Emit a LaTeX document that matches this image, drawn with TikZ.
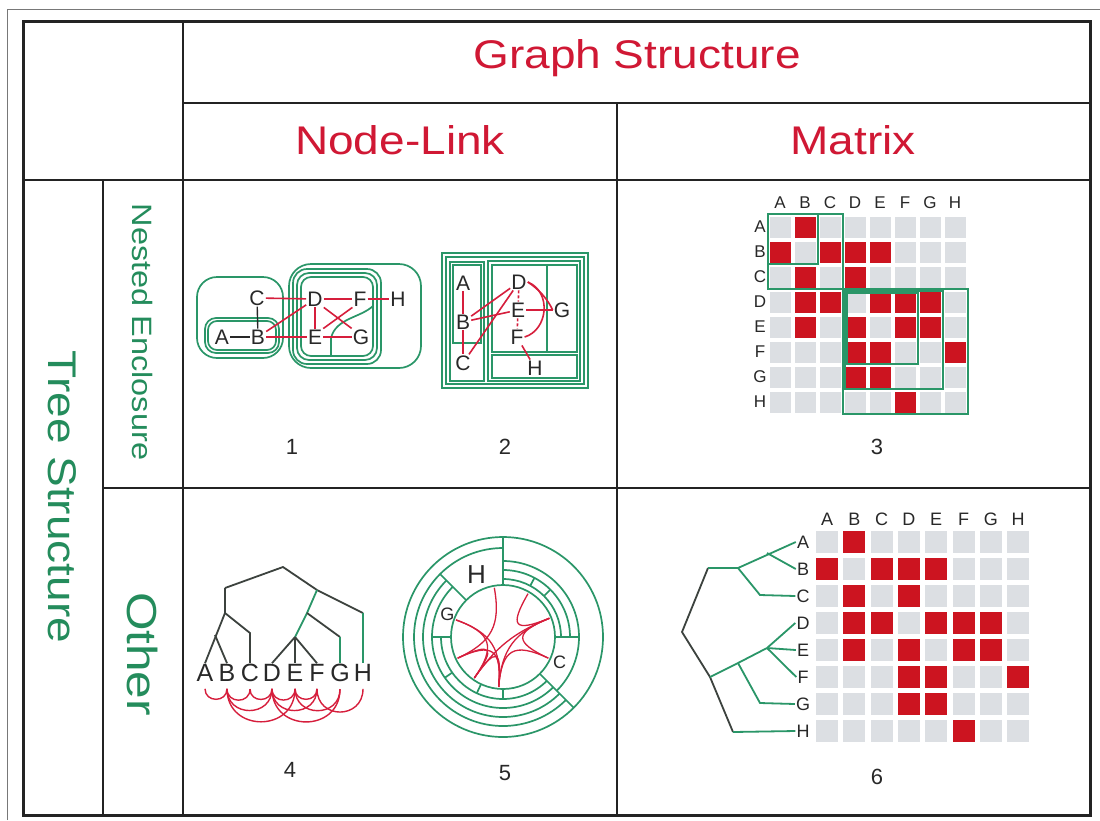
\documentclass[tikz,border=0pt]{standalone}
\usepackage{fontspec}
\setmainfont{Liberation Sans}
\usepackage{graphicx}
\definecolor{hred}{RGB}{208,24,52}
\definecolor{tgreen}{RGB}{36,140,92}
\definecolor{lgreen}{RGB}{42,150,104}
\definecolor{ered}{RGB}{214,30,60}
\definecolor{cellred}{RGB}{204,20,32}
\definecolor{cellgray}{RGB}{220,223,227}
\definecolor{framec}{RGB}{35,35,35}
\definecolor{txt}{RGB}{40,40,40}
\definecolor{tdark}{RGB}{60,66,62}
\definecolor{thinc}{RGB}{120,120,120}
\tikzset{
  hdr/.style={text=hred, inner sep=0pt, font=\fontsize{40}{40}\selectfont},
  rowlab/.style={text=tgreen, inner sep=0pt, rotate=-90},
  num/.style={text=txt, inner sep=0pt, font=\fontsize{22}{22}\selectfont},
  gl/.style={text=txt, inner sep=1pt, font=\fontsize{21}{21}\selectfont},
  mlab/.style={text=txt, inner sep=0pt, font=\fontsize{17}{17}\selectfont},
  blab/.style={text=txt, inner sep=1pt, font=\fontsize{25}{25}\selectfont},
  encl/.style={draw=lgreen, line width=1.7pt},
  redge/.style={draw=ered, line width=1.6pt},
  dedge/.style={draw=txt, line width=1.4pt},
  gridl/.style={draw=framec, line width=1.3pt},
  tline/.style={draw=tdark, line width=1.8pt},
  tgline/.style={draw=lgreen, line width=1.8pt},
}
\begin{document}
\begin{tikzpicture}[x=1pt,y=-1pt]
\useasboundingbox (0,0) rectangle (1100,820);
\fill[white] (0,0) rectangle (1100,820);
% ---------- table frame ----------
\draw[thinc, line width=0.8pt] (7,820) -- (7,9) -- (1100,9);
\draw[framec, line width=3pt] (23,21) rectangle (1090,815);
\draw[gridl] (183,21) -- (183,815);
\draw[gridl] (183,103) -- (1090,103);
\draw[framec, line width=2pt] (23,180) -- (1090,180);
\draw[gridl] (617,103) -- (617,815);
\draw[gridl] (103,180) -- (103,815);
\draw[gridl] (103,488) -- (1090,488);
% ---------- headers ----------
\node[hdr] (hGraph) at (637,58) {\scalebox{1.15}[1]{Graph Structure}};
\node[hdr] (hNL) at (400,140) {\scalebox{1.15}[1]{Node-Link}};
\node[hdr] (hMat) at (853,140) {\scalebox{1.15}[1]{Matrix}};
\node[rowlab, font=\fontsize{40}{40}\selectfont] (hTree) at (62,497) {\scalebox{1.15}[1]{Tree Structure}};
\node[rowlab, font=\fontsize{28}{28}\selectfont] (hNest) at (143,332) {\scalebox{1.16}[1]{Nested Enclosure}};
\node[rowlab, font=\fontsize{42}{42}\selectfont] (hOther) at (143,654) {\scalebox{1.18}[1]{Other}};
% ---------- panel 1 ----------
\draw[encl, rounded corners=20] (197,277) rectangle (283,358);
\draw[encl, rounded corners=11] (205,318) rectangle (279,353);
\draw[encl, rounded corners=9] (208,321) rectangle (276,350);
\draw[encl, rounded corners=22] (289,264) rectangle (421,368);
\draw[encl, rounded corners=14] (293,269) rectangle (381,364);
\draw[encl, rounded corners=12] (297,273) rectangle (377,360);
\draw[encl, rounded corners=10] (301,277) rectangle (373,356);
\draw[encl] (373,306) .. controls (360,318) and (336,318) .. (331,338) -- (331,356);
\node[gl] (aC) at (257,298) {C};
\node[gl] (aA) at (222,337) {A};
\node[gl] (aB) at (258,337) {B};
\node[gl] (aD) at (315,299) {D};
\node[gl] (aE) at (315,337) {E};
\node[gl] (aF) at (360,299) {F};
\node[gl] (aG) at (361,337) {G};
\node[gl] (aH) at (398,299) {H};
\draw[dedge] (aA) -- (aB);
\draw[dedge] (aC) -- (aB);
\draw[redge] (aC) -- (aD);
\draw[redge] (aB) -- (aD);
\draw[redge] (aB) -- (aE);
\draw[redge] (aD) -- (aE);
\draw[redge] (aD.east) -- (aF.west);
\draw[redge] (aE.east) -- (aG.west);
\draw[redge] (aD.south east) -- (aG.north west);
\draw[redge] (aF.south west) -- (aE.north east);
\draw[redge] (aF) -- (aH);
% ---------- panel 2 ----------
\draw[encl] (442,253) rectangle (588,388);
\draw[encl] (446,257) rectangle (584,384);
\draw[encl] (450,262) rectangle (484,381);
\draw[encl] (453,265) rectangle (481,343);
\draw[encl] (488,261) rectangle (580,381);
\draw[encl] (492,265) rectangle (547,352);
\draw[encl] (547,265) rectangle (577,352);
\draw[encl] (492,355) rectangle (577,378);
\node[gl] (bA) at (463,283) {A};
\node[gl] (bB) at (463,322) {B};
\node[gl] (bC) at (463,363) {C};
\node[gl] (bD) at (519,282) {D};
\node[gl] (bE) at (518,310) {E};
\node[gl] (bF) at (517,337) {F};
\node[gl] (bG) at (562,310) {G};
\node[gl] (bH) at (535,368) {H};
\draw[redge] (bA) -- (bB);
\draw[redge] (bB) -- (bC);
\draw[redge] (bB) -- (bD);
\draw[redge] (bC) -- (bD);
\draw[redge] (bB) -- (bE);
\draw[redge, dash pattern=on 3pt off 2pt] (bD) -- (bE);
\draw[redge, dash pattern=on 3pt off 2pt] (bE) -- (bF);
\draw[redge] (bE) -- (bG);
\draw[redge] (bD.east) .. controls (540,290) and (548,300) .. (bG.west);
\draw[redge] (bD.east) .. controls (552,292) and (548,330) .. (bF.east);
\draw[redge] (bF) -- (bH);
% ---------- panel 3 (matrix) ----------
\foreach \i in {0,...,7} \foreach \j in {0,...,7}
  \fill[cellgray] ({769.5+25*\i},{216.5+25*\j}) rectangle +(21,21);
\foreach \r/\c in {0/1, 1/0,1/2,1/3,1/4, 2/1,2/3, 3/1,3/2,3/4,3/5,3/6, 4/1,4/3,4/5,4/6, 5/3,5/4,5/7, 6/3,6/4, 7/5}
  \fill[cellred] ({769.5+25*\c},{216.5+25*\r}) rectangle +(21,21);
\foreach \l [count=\k from 0] in {A,B,C,D,E,F,G,H} {
  \node[mlab] (mc\l) at ({780+25*\k},203) {\l};
  \node[mlab] (mr\l) at (760,{227+25*\k}) {\l};
}
\draw[encl] (768,214) rectangle (843,289);
\draw[encl] (768,214) rectangle (818,264);
\draw[encl] (843,289) rectangle (968,414);
\draw[encl] (845,291) rectangle (943,389);
\draw[encl] (847,293) rectangle (918,364);
% ---------- panel 4 (tree + arcs) ----------
\node[blab] (dA) at (205,673) {A};
\node[blab] (dB) at (227,673) {B};
\node[blab] (dC) at (250,673) {C};
\node[blab] (dD) at (272,673) {D};
\node[blab] (dE) at (295,673) {E};
\node[blab] (dF) at (317,673) {F};
\node[blab] (dG) at (340,673) {G};
\node[blab] (dH) at (363,673) {H};
\coordinate (tRoot) at (283,567);
\coordinate (tL) at (225,588);
\coordinate (tR) at (317,590);
\coordinate (tLv) at (225,613);
\coordinate (tAB) at (215,635);
\coordinate (tCn) at (250,633);
\coordinate (tHn) at (363,613);
\coordinate (tDEFG) at (307,613);
\coordinate (tDEF) at (295,637);
\coordinate (tGn) at (340,637);
\draw[tline] (tL) -- (tRoot) -- (tR);
\draw[tline] (tL) -- (tLv) -- (dA.north);
\draw[tline] (tAB) -- (dB.north);
\draw[tline] (tLv) -- (tCn) -- (dC.north);
\draw[tline] (tR) -- (tHn);
\draw[tgline] (tHn) -- (dH.north);
\draw[tgline] (tR) -- (tDEFG) -- (tDEF);
\draw[tline] (tDEF) -- (dD.north);
\draw[tline] (tDEF) -- (dE.north);
\draw[tline] (tDEF) -- (dF.north);
\draw[tline] (tDEFG) -- (tGn);
\draw[tgline] (tGn) -- (dG.north);
\foreach \p/\q/\k in {A/B/14, B/C/15, B/D/29, B/E/44, C/D/14, D/E/15, D/F/29, D/G/44, E/F/14, E/G/29, F/H/31}
  \draw[redge, line width=1.4pt] ([yshift=-6pt]d\p.south) .. controls +(0,\k) and +(0,\k) .. ([yshift=-6pt]d\q.south);
% ---------- panel 5 (radial) ----------
\begin{scope}[shift={(503,637)}, yscale=-1]
  \draw[encl] (0,0) circle[radius=100];
  \draw[encl] (90:89) arc[start angle=90, end angle=315, radius=89];
  \draw[encl] (135:80) arc[start angle=135, end angle=315, radius=80];
  \draw[encl] (135:71) arc[start angle=135, end angle=315, radius=71];
  \draw[encl] (180:62) arc[start angle=180, end angle=315, radius=62];
  \draw[encl] (0,0) circle[radius=52];
  \draw[encl] (-45:76) arc[start angle=-45, end angle=90, radius=76];
  \draw[encl] (0:67) arc[start angle=0, end angle=90, radius=67];
  \draw[encl] (0:58) arc[start angle=0, end angle=90, radius=58];
  \draw[encl] (90:52) -- (90:100);
  \draw[encl] (135:52) -- (135:89);
  \draw[encl] (180:52) -- (180:71);
  \draw[encl] (-45:52) -- (-45:100);
  \draw[encl] (0:52) -- (0:76);
  \draw[encl] (45:58) -- (45:67);
  \draw[encl] (62:58) -- (62:67);
  \draw[encl] (270:52) -- (270:62);
  \draw[encl] (245:52) -- (245:62);
  \draw[encl] (215:62) -- (215:71);
  \node[text=txt, inner sep=0pt, font=\fontsize{26}{26}\selectfont] (eH) at (113:68) {H};
  \node[text=txt, inner sep=0pt, font=\fontsize{18}{18}\selectfont] (eG) at (158:60) {G};
  \node[text=txt, inner sep=0pt, font=\fontsize{18}{18}\selectfont] (eC) at (-24:62) {C};
  \coordinate (lA) at (60:50);
  \coordinate (lB) at (22:50);
  \coordinate (lC) at (-25:50);
  \coordinate (lD) at (265:50);
  \coordinate (lE) at (235:50);
  \coordinate (lF) at (205:50);
  \coordinate (lG) at (160:50);
  \coordinate (lH) at (100:50);
  \tikzset{rl/.style={redge, line width=1.3pt}}
  \draw[rl] (lA) .. controls (60:12) and (22:12) .. (lB);
  \draw[rl] (lB) .. controls (22:12) and (-25:12) .. (lC);
  \draw[rl] (lB) .. controls (22:12) and (265:12) .. (lD);
  \draw[rl] (lB) .. controls (22:12) and (235:12) .. (lE);
  \draw[rl] (lC) .. controls (-25:12) and (265:12) .. (lD);
  \draw[rl] (lD) .. controls (265:12) and (235:12) .. (lE);
  \draw[rl] (lD) .. controls (265:12) and (205:12) .. (lF);
  \draw[rl] (lD) .. controls (265:12) and (160:12) .. (lG);
  \draw[rl] (lE) .. controls (235:12) and (205:12) .. (lF);
  \draw[rl] (lE) .. controls (235:12) and (160:12) .. (lG);
  \draw[rl] (lF) .. controls (205:12) and (100:12) .. (lH);
\end{scope}
% ---------- panel 6 (matrix + tree) ----------
\foreach \i in {0,...,7} \foreach \j in {0,...,7}
  \fill[cellgray] ({816+27.3*\i},{531+27*\j}) rectangle +(22,22);
\foreach \r/\c in {0/1, 1/0,1/2,1/3,1/4, 2/1,2/3, 3/1,3/2,3/4,3/5,3/6, 4/1,4/3,4/5,4/6, 5/3,5/4,5/7, 6/3,6/4, 7/5}
  \fill[cellred] ({816+27.3*\c},{531+27*\r}) rectangle +(22,22);
\foreach \l [count=\k from 0] in {A,B,C,D,E,F,G,H} {
  \node[mlab, font=\fontsize{18}{18}\selectfont] (fc\l) at ({827+27.3*\k},519) {\l};
  \node[mlab, font=\fontsize{18}{18}\selectfont, inner sep=1pt] (fr\l) at (803,{542+27*\k}) {\l};
}
\coordinate (fRoot) at (682,632);
\coordinate (fU) at (708,568);
\coordinate (fUa) at (738,568);
\coordinate (fAB) at (767,553);
\coordinate (fCn) at (760,595);
\coordinate (fL) at (710,677);
\coordinate (fGb) at (738,663);
\coordinate (fDEF) at (767,648);
\coordinate (fGn) at (760,703);
\coordinate (fHn) at (733,732);
\draw[tline] (fU) -- (fRoot) -- (fL) -- (fHn);
\draw[tgline] (fU) -- (fUa) -- (frA.west);
\draw[tgline] (fAB) -- (frB.west);
\draw[tgline] (fUa) -- (fCn) -- (frC.west);
\draw[tgline] (fL) -- (fGb) -- (fDEF);
\draw[tgline] (fDEF) -- (frD.west);
\draw[tgline] (fDEF) -- (frE.west);
\draw[tgline] (fDEF) -- (frF.west);
\draw[tgline] (fGb) -- (fGn) -- (frG.west);
\draw[tgline] (fHn) -- (frH.west);
% ---------- panel numbers ----------
\node[num] (n1) at (292,447) {1};
\node[num] (n2) at (505,447) {2};
\node[num] (n3) at (877,447) {3};
\node[num] (n4) at (290,770) {4};
\node[num] (n5) at (505,773) {5};
\node[num] (n6) at (877,777) {6};
\end{tikzpicture}
\end{document}
